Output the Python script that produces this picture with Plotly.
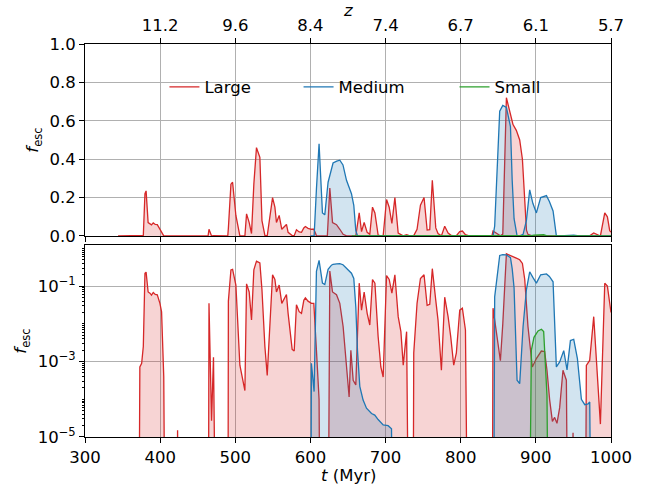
import numpy as np
import plotly.graph_objects as go

# ---------------- data ----------------
t_large = [344, 370.9, 373, 375.4, 377.6, 379.8, 381.3, 384, 386.4, 388.5, 390.8, 393.5, 396.2, 399.7, 401.9, 404.8, 407.7,
           421, 423.2, 425,
           463.8, 465, 468.4, 471, 476,
           490, 490.8, 494.2, 496.4, 500.8, 506.1, 512.8, 515, 518.5, 521.6, 524.7, 528.2, 532.7, 535.5, 539.4, 542.5,
           549.6, 552.7, 554.8, 558.4, 561.9, 568.1, 570.3, 575.7, 578.4, 581.4, 585, 588.1, 591.2, 593.3, 596.8,
           601.3, 604.5, 608, 611.5, 614,
           622.5, 625.8, 629.4, 634.7, 639.1, 643.5, 648, 651.5, 653.8, 656.9, 660.4, 664.9, 668, 671.5, 675.5, 679,
           682.6, 685.8, 690.1, 693.7, 696.8, 701.3, 704.8, 708.4, 712.4, 716.8, 720.4, 723.5, 728, 732.4, 736,
           737.5, 741.9, 746.4, 751.2, 755.3, 758.8, 762.2, 766.8, 769.8, 774.3, 778.7, 783.2, 786.7, 790.7, 794.2,
           798.7, 802.2, 806.3, 811,
           841.5, 843, 852.8, 856, 860.8, 865.3, 869.6, 874, 878.5, 882.1, 885.2, 887.5, 889.5, 895.3, 900.7, 907.3,
           911.7, 914.8, 918.4, 922, 925, 928.1, 931.7, 936.1, 940.6, 944.1, 947, 949.5, 951, 965, 967.2, 971.6, 977,
           985.9, 991.7, 995.2, 998.3, 1000]
f_large = [0, 0, 7.2e-4, 9e-4, 2.5e-3, 0.22, 0.235, 0.07, 0.065, 0.058, 0.068, 0.06, 0.059, 0.035, 0.021, 4e-4, 0,
           0, 1.5e-5, 0,
           0, 0.035, 2.7e-5, 1.3e-3, 0,
           0, 0.04, 0.27, 0.28, 0.107, 8e-4, 1.7e-4, 0.115, 0.07, 0.0126, 0.27, 0.46, 0.41, 0.08, 2.5e-3, 4.3e-4,
           0.2, 0.15, 0.07, 0.107, 0.035, 0.06, 0.019, 2.1e-3, 1.9e-3, 0.032, 0.021, 0.019, 0.042, 0.049, 0.04,
           0.035, 0.035, 2e-3, 1e-4, 0,
           0, 0.25, 0.07, 0.059, 0.035, 0.0085, 7.2e-4, 1.15e-4, 2e-3, 3.2e-4, 2.4e-4, 0.12, 0.023, 0.07, 0.019, 0.0093,
           0.15, 0.12, 4.6e-3, 7.2e-4, 3.9e-4, 0.19, 0.15, 0.065, 0.2, 0.0155, 6.2e-3, 8e-4, 6.2e-3, 0, 0,
           1.7e-3, 0.035, 0.16, 0.2, 0.031, 0.033, 0.29, 0.042, 0.0126, 5.9e-4, 0.051, 0.0155, 4.6e-3, 8e-4, 1.7e-3,
           0.023, 0.026, 6.9e-3, 0,
           0, 0.026, 1.05e-3, 0.01, 0.72, 0.65, 0.58, 0.55, 0.50, 0.40, 0.15, 0.03, 0.0085, 7.2e-4, 1.2e-3, 1.9e-3,
           1.85e-3, 5.9e-4, 9.5e-5, 2.6e-5, 3.3e-5, 2.3e-5, 6e-5, 5.9e-4, 3.2e-4, 0, 0, 1.3e-5, 0, 0, 7.9e-4, 1.07e-3, 0.0155,
           2.2e-5, 0.12, 0.1, 0.028, 0.02]

t_medium = [600, 601.3, 604.9, 608, 611.5, 616, 619.1, 623.5, 628, 630.1, 635, 639.1, 643.3, 648, 654.6, 657.7, 660.4,
            662.6, 665.7, 670.1, 674.6, 681.3, 685.6, 690.1, 696.8, 703.4, 707.9, 711,
            843, 845.2, 851.9, 856, 860.8, 866.2, 868.5, 871, 875, 878.5, 883, 887.4, 891.8, 896, 900.7, 906.4, 914.1,
            918, 922.9, 927.3, 931.7, 937.1, 941.5, 946, 950.4, 955.3, 960.6, 965.1, 969.5, 971.7, 975.3, 1000]
f_medium = [0, 9e-4, 1.6e-4, 0.245, 0.48, 0.12, 0.11, 0.28, 0.36, 0.38, 0.39, 0.395, 0.37, 0.29, 0.22, 0.16, 0.028,
            2e-3, 2.2e-4, 9.5e-5, 5.8e-5, 4.2e-5, 3.8e-5, 2.9e-5, 2.1e-5, 2e-5, 1.66e-5, 0,
            0, 0.052, 0.65, 0.68, 0.67, 0.57, 0.29, 0.09, 3.2e-4, 2.6e-4, 8.5e-3, 0.08, 0.24, 0.17, 0.12, 0.2, 0.21,
            0.18, 0.13, 7.2e-4, 9.8e-4, 1.95e-3, 6e-4, 3.6e-3, 3.9e-3, 1.2e-3, 1e-4, 7.2e-5, 7.5e-5, 8.5e-5, 0, 0]

t_small = [655, 889.5, 894, 897.5, 902.9, 907.4, 910.4, 914.8, 918.4, 1000]
f_small = [0, 0, 2e-3, 4.4e-3, 6.5e-3, 7.2e-3, 6.3e-3, 1.26e-4, 0, 0]

z_tick_t = [400, 500, 600, 700, 800, 900, 1000]
z_tick_labels = ["11.2", "9.6", "8.4", "7.4", "6.7", "6.1", "5.7"]

t_ticks = [300, 400, 500, 600, 700, 800, 900, 1000]
lin_ticks = [0.0, 0.2, 0.4, 0.6, 0.8, 1.0]
log_ticks = [1e-5, 1e-3, 1e-1]
log_tick_labels = ["10<sup>−5</sup>", "10<sup>−3</sup>", "10<sup>−1</sup>"]

# ---------------- figure ----------------
FONT = "DejaVu Sans"
FS = 16.5
series = [
    ("Large", t_large, f_large, "#d62728", "rgba(214,39,40,0.2)", "legend"),
    ("Medium", t_medium, f_medium, "#1f77b4", "rgba(31,119,180,0.2)", "legend2"),
    ("Small", t_small, f_small, "#2ca02c", "rgba(44,160,44,0.2)", "legend3"),
]

fig = go.Figure()
for name, t, f, col, fcol, leg in series:
    f = np.asarray(f, dtype=float)
    fig.add_trace(go.Scatter(x=t, y=f, xaxis="x2", yaxis="y2", mode="lines",
                             line=dict(color=col, width=1.3), fill="tozeroy", fillcolor=fcol,
                             name=name, showlegend=False, hoverinfo="skip"))
    flog = np.where(f > 0, f, 1e-12)
    fig.add_trace(go.Scatter(x=t, y=flog, xaxis="x", yaxis="y", mode="lines",
                             line=dict(color=col, width=1.3), fill="tozeroy", fillcolor=fcol,
                             name=name, showlegend=False, hoverinfo="skip"))
    # line-only legend entry
    fig.add_trace(go.Scatter(x=[None], y=[None], xaxis="x2", yaxis="y2", mode="lines",
                             line=dict(color=col, width=1.3), name=name, legend=leg,
                             showlegend=True, hoverinfo="skip"))

# dummy trace to register the top (redshift) axis
fig.add_trace(go.Scatter(x=[300, 1000], y=[0, 0], xaxis="x3", yaxis="y2", mode="markers",
                         marker=dict(opacity=0), showlegend=False, hoverinfo="skip"))

axis_common = dict(showline=True, linecolor="black", linewidth=1, mirror=True,
                   ticks="outside", ticklen=5, tickcolor="black", tickwidth=1,
                   showgrid=True, gridcolor="#b0b0b0", gridwidth=0.8, zeroline=False,
                   automargin=False,
                   tickfont=dict(family=FONT, size=FS, color="black"))

minor_vals = [m * 10.0 ** d for d in range(-5, 1) for m in range(1, 10)
              if not (m == 1 and d in (-5, -3, -1))]

fig.update_layout(
    width=654, height=486, autosize=False,
    margin=dict(l=85, r=43, t=44, b=49, pad=0),
    paper_bgcolor="white", plot_bgcolor="white",
    font=dict(family=FONT, size=FS, color="black"),
    xaxis=dict(domain=[0, 1], anchor="y", range=[300, 1000], tickvals=t_ticks, **axis_common),
    yaxis=dict(domain=[0, 0.4885], anchor="x", type="log", range=[-5, 0.09],
               tickvals=log_ticks, ticktext=log_tick_labels,
               minor=dict(tickvals=minor_vals, ticks="outside", ticklen=2.5, tickcolor="black", showgrid=False),
               title=dict(text="<i>f</i><sub>esc</sub>", font=dict(family=FONT, size=FS), standoff=6),
               **axis_common),
    xaxis2=dict(domain=[0, 1], anchor="y2", matches="x", range=[300, 1000], tickvals=t_ticks,
                showticklabels=False, **axis_common),
    yaxis2=dict(domain=[0.5115, 1], anchor="x2", range=[0, 1.0], tickvals=lin_ticks,
                ticktext=["%.1f" % v for v in lin_ticks],
                title=dict(text="<i>f</i><sub>esc</sub>", font=dict(family=FONT, size=FS), standoff=6),
                **axis_common),
    xaxis3=dict(overlaying="x2", side="top", anchor="y2", range=[300, 1000],
                tickvals=z_tick_t, ticktext=z_tick_labels, ticks="outside", ticklen=5,
                tickcolor="black", showgrid=False, zeroline=False, showline=False, automargin=False,
                tickfont=dict(family=FONT, size=FS, color="black")),
    annotations=[
        dict(text="<i>z</i>", xref="paper", yref="paper", x=0.5, y=1.0865, xanchor="center",
             yanchor="middle", showarrow=False, font=dict(family=FONT, size=FS, color="black")),
        dict(text="<i>t</i> (Myr)", xref="paper", yref="paper", x=0.5, y=-0.0992, xanchor="center",
             yanchor="middle", showarrow=False, font=dict(family=FONT, size=FS, color="black")),
    ],
)

leg_common = dict(orientation="h", yanchor="middle", xanchor="left", bgcolor="rgba(0,0,0,0)",
                  font=dict(family=FONT, size=FS, color="black"), borderwidth=0)
fig.update_layout(
    legend=dict(x=0.151, y=0.89, **leg_common),
    legend2=dict(x=0.406, y=0.89, **leg_common),
    legend3=dict(x=0.7025, y=0.89, **leg_common),
)

# remove the default 8px page margin so the figure sits at the window's corner
fig.write_html("out.html", config={"displayModeBar": False},
               post_script="document.body.style.margin='0px';")
